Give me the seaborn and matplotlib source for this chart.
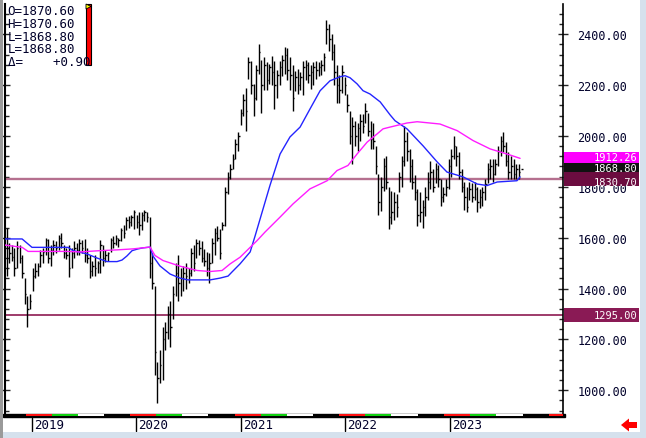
import matplotlib
matplotlib.use("Agg")
import matplotlib.pyplot as plt
import matplotlib.transforms as mtransforms
from matplotlib.patches import Rectangle, Polygon
from matplotlib.ticker import MultipleLocator
import numpy as np
import seaborn as sns

# weekly-ish bars (price units)
highs = [1640, 1580, 1570, 1560, 1585, 1570, 1530, 1440, 1370, 1380,
         1480, 1500, 1500, 1550, 1560, 1600, 1595, 1570, 1590, 1585,
         1610, 1620, 1570, 1560, 1570, 1560, 1585, 1580, 1595, 1590,
         1595, 1560, 1530, 1510, 1530, 1510, 1590, 1570, 1550, 1545,
         1600, 1605, 1610, 1600, 1640, 1650, 1680, 1685, 1690, 1710,
         1690, 1700, 1700, 1710, 1700, 1680, 1540, 1410, 1110, 1160,
         1250, 1270, 1330, 1350, 1410, 1500, 1530, 1480, 1490, 1500,
         1480, 1560, 1570, 1595, 1590, 1585, 1555, 1545, 1540, 1600,
         1640, 1645, 1635, 1660, 1800, 1860, 1890, 1930, 1990, 2015,
         2105, 2165, 2190, 2310, 2295, 2205, 2280, 2360, 2300, 2310,
         2290, 2285, 2315, 2295, 2260, 2295, 2320, 2350, 2345, 2310,
         2280, 2255, 2265, 2250, 2295, 2300, 2290, 2280, 2290, 2295,
         2290, 2300, 2325, 2455, 2440, 2400, 2360, 2280, 2240, 2280,
         2230, 2165, 2100, 2075, 2060, 2050, 2085, 2085, 2130, 2090,
         2060, 2050, 1960, 1850, 1840, 1915, 1920, 1800, 1785, 1780,
         1770, 1860, 1920, 2040, 2015, 1950, 1910, 1845, 1790, 1780,
         1750, 1800, 1860, 1900, 1870, 1895, 1885, 1830, 1800, 1830,
         1910, 1950, 2000, 1960, 1935, 1870, 1820, 1800, 1820, 1815,
         1820, 1800, 1790, 1800, 1830, 1895, 1910, 1910, 1910, 1960,
         2000, 2015, 1975, 1935, 1920, 1910, 1890, 1890, 1870.6]
lows = [1450, 1500, 1510, 1450, 1480, 1500, 1440, 1340, 1250, 1320,
        1390, 1440, 1450, 1485, 1500, 1530, 1500, 1490, 1530, 1540,
        1550, 1560, 1520, 1515, 1445, 1480, 1520, 1530, 1530, 1540,
        1505, 1500, 1440, 1450, 1450, 1460, 1460, 1490, 1505, 1510,
        1545, 1560, 1570, 1565, 1585, 1600, 1630, 1640, 1645, 1635,
        1640, 1610, 1630, 1665, 1660, 1440, 1400, 1060, 950, 1030,
        1040, 1160, 1200, 1170, 1280, 1370, 1350, 1370, 1390, 1400,
        1420, 1450, 1470, 1520, 1530, 1505, 1490, 1450, 1420, 1500,
        1530, 1585, 1515, 1630, 1645, 1770, 1830, 1870, 1910, 1940,
        2045, 2080, 2020, 2225, 2165, 2080, 2140, 2245, 2090, 2180,
        2180, 2205, 2200, 2105, 2150, 2200, 2235, 2245, 2220, 2180,
        2100, 2175, 2165, 2180, 2160, 2220, 2210, 2185, 2200, 2225,
        2235, 2240, 2255, 2360, 2335, 2300, 2200, 2130, 2130, 2170,
        2160, 2095, 1970, 1890, 1960, 1940, 1980, 2010, 2050, 2000,
        1950, 1950, 1850, 1690, 1705, 1785, 1790, 1635, 1655, 1670,
        1680, 1780, 1800, 1880, 1900, 1820, 1790, 1750, 1645, 1660,
        1640, 1685, 1750, 1790, 1780, 1815, 1800, 1725, 1740, 1765,
        1790, 1840, 1910, 1880, 1830, 1780, 1710, 1700, 1750, 1740,
        1750, 1700, 1715, 1725, 1750, 1815, 1830, 1820, 1845, 1880,
        1920, 1935, 1880, 1830, 1830, 1830, 1830, 1832, 1868.8]
closes = [1560, 1540, 1525, 1480, 1560, 1520, 1460, 1380, 1320, 1350,
          1450, 1470, 1490, 1530, 1545, 1590, 1520, 1550, 1570, 1560,
          1600, 1580, 1540, 1530, 1480, 1540, 1560, 1550, 1580, 1560,
          1530, 1520, 1470, 1490, 1480, 1500, 1570, 1520, 1530, 1540,
          1590, 1580, 1600, 1590, 1630, 1620, 1670, 1660, 1680, 1700,
          1660, 1650, 1690, 1700, 1680, 1500, 1420, 1150, 1050, 1100,
          1200, 1230, 1300, 1250, 1380, 1460, 1420, 1440, 1460, 1450,
          1460, 1540, 1500, 1580, 1560, 1520, 1510, 1480, 1500, 1580,
          1620, 1600, 1540, 1650, 1780, 1840, 1870, 1910, 1970, 2000,
          2090, 2140, 2100, 2290, 2200, 2150, 2260, 2330, 2200, 2280,
          2220, 2270, 2250, 2200, 2240, 2270, 2300, 2320, 2260, 2240,
          2150, 2230, 2200, 2230, 2270, 2280, 2240, 2250, 2270, 2260,
          2270, 2280, 2310, 2420, 2380, 2330, 2250, 2200, 2180, 2250,
          2200, 2120, 2000, 2040, 2000, 2030, 2060, 2040, 2100, 2020,
          1990, 1980, 1880, 1740, 1800, 1880, 1820, 1680, 1700, 1740,
          1720, 1840, 1900, 1980, 1940, 1880, 1820, 1780, 1690, 1700,
          1720, 1760, 1820, 1860, 1800, 1870, 1830, 1760, 1770, 1800,
          1880, 1920, 1960, 1920, 1860, 1800, 1760, 1720, 1790, 1760,
          1790, 1740, 1760, 1780, 1810, 1870, 1880, 1850, 1890, 1940,
          1980, 1960, 1900, 1860, 1880, 1850, 1870, 1860, 1868.8]

# moving averages, sampled along the curves (bar index, price)
blue_x = [-0.6, 6.0, 9.8, 23.7, 25.6, 31.0, 34.8, 38.7, 42.5, 44.4, 46.3,
          48.3, 50.6, 52.5, 55.2, 56.3, 59.0, 62.9, 66.7, 69.8, 78.3, 82.1,
          85.2, 86.7, 89.8, 93.7, 95.6, 97.5, 101.3, 105.2, 109.0, 112.9,
          116.7, 120.6, 124.4, 128.3, 130.2, 132.1, 134.8, 137.1, 139.8,
          143.7, 147.5, 149.4, 154.0, 160.2, 165.6, 169.4, 175.6, 181.0,
          184.8, 188.7, 196.3, 197.5]
blue_ma = [1595, 1595, 1562, 1562, 1549, 1536, 1520, 1506, 1506, 1512, 1528,
           1549, 1556, 1560, 1563, 1528, 1489, 1457, 1441, 1434, 1434, 1441,
           1449, 1465, 1497, 1544, 1607, 1673, 1805, 1929, 1996, 2035,
           2106, 2178, 2217, 2233, 2237, 2229, 2205, 2178, 2165,
           2134, 2083, 2060, 2028, 1961, 1898, 1858, 1839, 1811,
           1805, 1819, 1824, 1839]
pink_x = [-0.6, 6.0, 8.3, 23.3, 28.3, 36.0, 42.5, 48.7, 55.2, 57.1, 60.2,
          66.7, 73.3, 78.3, 82.9, 86.0, 89.8, 93.7, 96.3, 99.4, 105.2, 110.2,
          116.7, 123.3, 127.1, 131.3, 134.8, 138.7, 142.5, 144.8, 147.5,
          154.0, 157.9, 166.7, 173.3, 179.4, 186.0, 192.5, 197.5]
pink_ma = [1571, 1562, 1546, 1546, 1544, 1549, 1552, 1556, 1563, 1530, 1510,
           1488, 1471, 1467, 1471, 1497, 1523, 1562, 1588, 1622, 1681, 1733,
           1792, 1824, 1864, 1884, 1929, 1976, 2008, 2028, 2035,
           2051, 2056, 2047, 2021, 1982, 1949, 1929, 1912]

level_hi = 1830.70
level_lo = 1295.00
last_close = 1868.80
pink_last = 1912.26

years = ["2019", "2020", "2021", "2022", "2023"]
year_pos = [9.8, 49.8, 90.2, 130.2, 170.6]
price_ticks = [1000, 1200, 1400, 1600, 1800, 2000, 2200, 2400]
info_lines = ["O=1870.60", "H=1870.60", "L=1868.80", "L=1868.80", "\u0394=    +0.90"]

sns.set_style("white")
plt.rcParams["font.family"] = ["DejaVu Sans Mono", "DejaVu Sans"]

W, H = 646, 439


def fx(px):
    return px / W


def fy(py):
    return 1 - py / H


fig = plt.figure(figsize=(W / 100, H / 100), dpi=100)
fig.patch.set_facecolor("white")
ax = fig.add_axes([fx(5), fy(415), (563 - 5) / W, (415 - 5) / H])
ax.set_facecolor("white")

x = np.arange(len(highs))
ax.vlines(x, lows, highs, color="black", lw=1.0, zorder=3)
ax.hlines(closes, x, x + 0.6, color="black", lw=1.0, zorder=3)

sns.lineplot(x=blue_x, y=blue_ma, ax=ax, color="#2424ff", lw=1.0, zorder=4)
sns.lineplot(x=pink_x, y=pink_ma, ax=ax, color="#ff1cff", lw=1.0, zorder=4)
ax.axhline(level_hi, color="#b5708f", lw=1.7, zorder=2)
ax.axhline(level_lo, color="#8e1a52", lw=1.2, zorder=2)

ax.set_xlim(-0.58, 214.0)
ax.set_ylim(906.6, 2519)
ax.set_xlabel("")
ax.set_ylabel("")
ax.set_xticks([])

ax.yaxis.tick_right()
ax.set_yticks(price_ticks)
ax.set_yticklabels([f"{v:.2f}" for v in price_ticks])
ax.yaxis.set_minor_locator(MultipleLocator(40))
ax.tick_params(axis="y", which="major", direction="inout", length=7, width=1,
               left=True, right=True, labelleft=False, labelright=True,
               labelsize=8.5, labelcolor="#00002a", pad=7)
ax.tick_params(axis="y", which="minor", direction="in", length=3, width=1,
               left=True, right=True)

for side in ["top", "bottom"]:
    ax.spines[side].set_visible(False)
ax.spines["left"].set_color("black")
ax.spines["left"].set_linewidth(1.5)
ax.spines["right"].set_color("black")
ax.spines["right"].set_linewidth(1.2)

# price boxes on the right scale
trans = mtransforms.blended_transform_factory(ax.transAxes, ax.transData)
box_h = 53
boxes = [(pink_last, pink_last + 5, "#ff00ff", 5),
         (last_close, last_close + 4, "#111111", 6),
         (level_hi, level_hi - 10, "#6c0c40", 7),
         (level_lo, level_lo, "#8a1a55", 7)]
for val, ty, col, z in boxes:
    ax.add_patch(Rectangle((1.0018, val - box_h / 2), 0.1344, box_h,
                           transform=trans, clip_on=False, facecolor=col,
                           edgecolor="none", zorder=z))
    ax.text(1.1326, ty, f"{val:.2f}", transform=trans, ha="right",
            va="center", color="white", fontsize=7.5, zorder=z + 0.5,
            clip_on=False)

# bottom time strip
tb = mtransforms.blended_transform_factory(ax.transData, fig.transFigure)
fig.add_artist(Rectangle((fx(3), fy(418.3)), (565 - 3) / W, 3.6 / H,
                         transform=fig.transFigure, color="black"))
quarter = 10.05
seg_cols = ["#ff1010", "#10d010", "white"]
for p in year_pos + [210.8]:
    start = p - 2.3
    for q, col in enumerate(seg_cols):
        a = start + q * quarter
        b = min(a + quarter, 214.0)
        if a >= 214.0:
            continue
        fig.add_artist(Rectangle((a, fy(417.3)), b - a, 2.0 / H, transform=tb,
                                 color=col, lw=0))

for p, lab in zip(year_pos, years):
    ax.plot([p, p], [fy(419), fy(431.7)], transform=tb, clip_on=False,
            color="black", lw=1.0)
    ax.text(p + 0.8, fy(425.5), lab, transform=tb, ha="left", va="center",
            fontsize=9, color="#00002a", clip_on=False)

# info panel
for k, line in enumerate(info_lines):
    fig.text(fx(7.5), fy(11.7 + 12.7 * k), line, ha="left", va="center",
             fontsize=9, color="#00002a")
fig.add_artist(Rectangle((fx(86), fy(66)), 4.7 / W, 61 / H,
                         transform=fig.transFigure, facecolor="#ff0000",
                         edgecolor="black", lw=0.8))
fig.add_artist(Polygon([(fx(86), fy(5)), (fx(91), fy(7.5)), (fx(86), fy(10))],
                       closed=True, transform=fig.transFigure,
                       facecolor="#ffff00", edgecolor="black", lw=0.6))

# window frame and arrow
frame = "#d5e1ed"
fig.add_artist(Rectangle((fx(640), 0), 6 / W, 1, transform=fig.transFigure,
                         color=frame, lw=0))
fig.add_artist(Rectangle((0, 0), 1, 6 / H, transform=fig.transFigure,
                         color=frame, lw=0))
fig.add_artist(Rectangle((0, 0), 2.5 / W, 1, transform=fig.transFigure,
                         color="#9a9a9a", lw=0))
fig.add_artist(Rectangle((0, fy(1.2)), 1, 1.2 / H, transform=fig.transFigure,
                         color="#9a9a9a", lw=0))
arrow_px = [(621, 426), (629, 419.5), (629, 423), (637, 423), (637, 429),
            (629, 429), (629, 432.5)]
fig.add_artist(Polygon([(fx(a), fy(b)) for a, b in arrow_px], closed=True,
                       transform=fig.transFigure, facecolor="#ff0000",
                       edgecolor="none"))

fig.savefig("out.png", dpi=100)
